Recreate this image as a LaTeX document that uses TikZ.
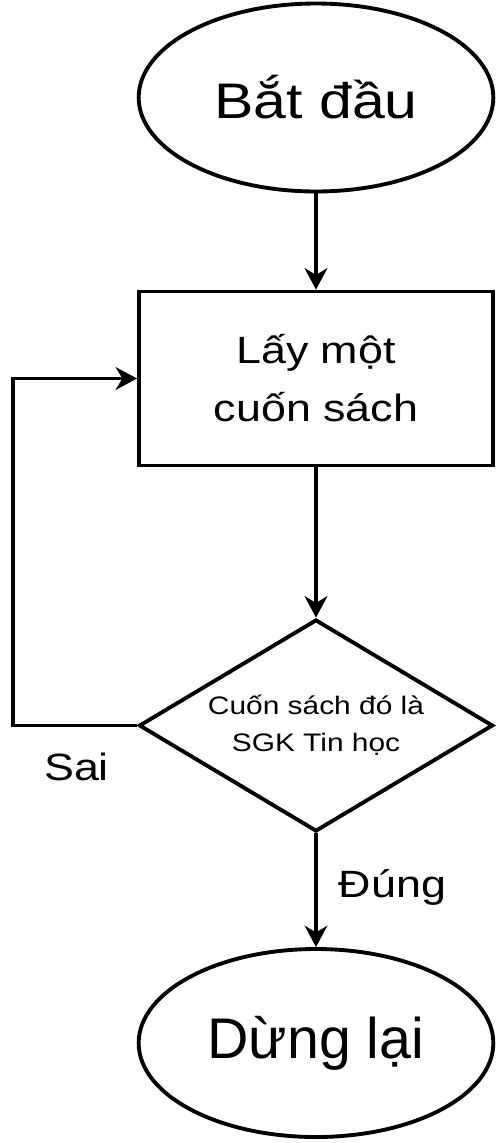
\documentclass[tikz,border=0pt]{standalone}
\usepackage{fontspec}
\setmainfont{Liberation Sans}[FakeStretch=1.18]
\newfontfamily\stopfont{Liberation Sans}
\usetikzlibrary{shapes.geometric,arrows.meta}

\tikzset{
	terminal/.style={draw, ellipse, line width=2.9pt, minimum width=266pt, minimum height=141pt, inner sep=0pt},
	process/.style={draw, rectangle, line width=2.9pt, minimum width=265.5pt, minimum height=130.5pt, align=center, inner sep=0pt},
	decision/.style={draw, diamond, aspect=1.66, line width=2.9pt, minimum width=265.5pt, minimum height=159pt, align=center, inner sep=0pt},
	flow/.style={line width=2.9pt, -{Stealth[length=16pt,width=17pt,inset=5pt]}},
	branch/.style={inner sep=0pt, anchor=base, font=\fontsize{28.5pt}{34pt}\selectfont},
}

\begin{document}
\begin{tikzpicture}[x=0.75pt,y=0.75pt,yscale=-1,xscale=1]
	\useasboundingbox (0,0) rectangle (500,1143);
	
	%Shape: Ellipse [start]
	\node [terminal, font=\fontsize{37.5pt}{44pt}\selectfont] (start) at (316,97.5) {Bắt đầu};
	%Shape: Rectangle [take]
	\node [process, font=\fontsize{28.5pt}{43.5pt}\selectfont] (take) at (316,378.5) {Lấy một\\cuốn sách};
	%Shape: Diamond [check]
	\node [decision, font=\fontsize{19pt}{27.75pt}\selectfont] (check) at (316,725.5) {Cuốn sách đó là\\SGK Tin học};
	%Shape: Ellipse [stop]
	\node [terminal, font=\stopfont\fontsize{43pt}{52pt}\selectfont] (stop) at (316,1043) {Dừng lại};
	
	%Straight Lines
	\draw [flow] (start) -- (take);
	\draw [flow] (take) -- (check);
	\draw [flow] (check) -- (stop);
	%Loop back
	\draw [flow] (check.west) -- ++(-124,0) |- (take.west);
	
	% Text Node
	\node [branch] (sai) at (76.5,780) {Sai};
	% Text Node
	\node [branch] (dung) at (392.5,897) {Đúng};
	
\end{tikzpicture}
\end{document}
